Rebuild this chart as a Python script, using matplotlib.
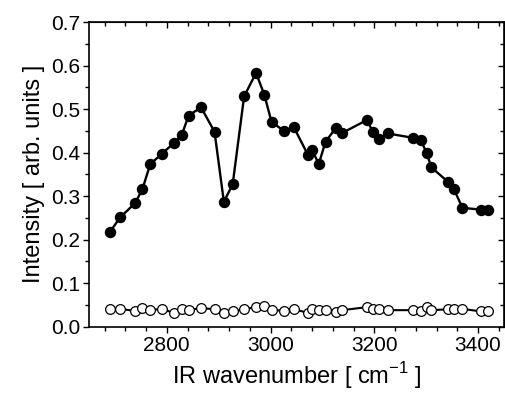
import matplotlib
matplotlib.use('Agg')
import matplotlib.pyplot as plt
from matplotlib.ticker import MultipleLocator, FormatStrFormatter

plt.rcParams['font.family'] = ['Liberation Sans', 'DejaVu Sans']
plt.rcParams['mathtext.fontset'] = 'custom'
plt.rcParams['mathtext.rm'] = 'Liberation Sans'

# wavenumbers (cm^-1), shared by both series
wavenumber = [2690, 2710, 2739, 2753, 2768, 2790, 2813, 2829, 2842, 2866,
              2892, 2910, 2927, 2949, 2972, 2988, 3002, 3026, 3045, 3072,
              3080, 3093, 3106, 3126, 3138, 3186, 3197, 3210, 3226, 3274,
              3290, 3301, 3310, 3342, 3353, 3370, 3406, 3420]

# filled circles
signal = [0.217, 0.251, 0.284, 0.316, 0.373, 0.397, 0.421, 0.441, 0.485, 0.504,
          0.448, 0.287, 0.327, 0.529, 0.583, 0.533, 0.470, 0.450, 0.458, 0.395,
          0.406, 0.374, 0.425, 0.457, 0.445, 0.475, 0.448, 0.432, 0.444, 0.434,
          0.428, 0.399, 0.366, 0.333, 0.317, 0.273, 0.269, 0.269]

# open circles
background = [0.041, 0.041, 0.036, 0.043, 0.038, 0.041, 0.032, 0.040, 0.038, 0.043,
              0.040, 0.032, 0.035, 0.040, 0.045, 0.048, 0.038, 0.037, 0.040, 0.032,
              0.040, 0.038, 0.038, 0.034, 0.038, 0.045, 0.041, 0.041, 0.038, 0.038,
              0.035, 0.045, 0.038, 0.040, 0.040, 0.041, 0.035, 0.037]

fig = plt.figure(figsize=(5.05, 3.96), dpi=100)
ax = fig.add_axes([0.1762, 0.175, 0.8218, 0.7694])

ax.plot(wavenumber, background, '-', color='black', lw=1.5,
        marker='o', ms=7.0, mfc='white', mec='black', mew=0.9)
ax.plot(wavenumber, signal, '-', color='black', lw=1.7,
        marker='o', ms=7.2, mfc='black', mec='black')

ax.set_xlim(2650, 3450)
ax.set_ylim(0.0, 0.7)
ax.xaxis.set_major_locator(MultipleLocator(200))
ax.xaxis.set_minor_locator(MultipleLocator(40))
ax.yaxis.set_major_locator(MultipleLocator(0.1))
ax.yaxis.set_minor_locator(MultipleLocator(0.05))
ax.yaxis.set_major_formatter(FormatStrFormatter('%.1f'))

ax.tick_params(which='both', direction='out', labelsize=15, width=1)
ax.tick_params(which='major', length=4.5, pad=2)
ax.tick_params(which='minor', length=3)

# mirrored inward ticks on top and right
top = ax.secondary_xaxis('top')
top.xaxis.set_major_locator(MultipleLocator(200))
top.xaxis.set_minor_locator(MultipleLocator(40))
top.tick_params(which='both', direction='in', labeltop=False, width=1)
top.tick_params(which='major', length=4.5)
top.tick_params(which='minor', length=3)
right = ax.secondary_yaxis('right')
right.yaxis.set_major_locator(MultipleLocator(0.1))
right.yaxis.set_minor_locator(MultipleLocator(0.05))
right.tick_params(which='both', direction='in', labelright=False, width=1)
right.tick_params(which='major', length=4.5)
right.tick_params(which='minor', length=3)

for s in ax.spines.values():
    s.set_linewidth(1.2)

ax.set_xlabel('IR wavenumber [ cm$^{\\mathregular{-1}}$ ]', fontsize=17, labelpad=4)
ax.set_ylabel('Intensity [ arb. units ]', fontsize=17, labelpad=4)

fig.savefig('out.png', dpi=100)
